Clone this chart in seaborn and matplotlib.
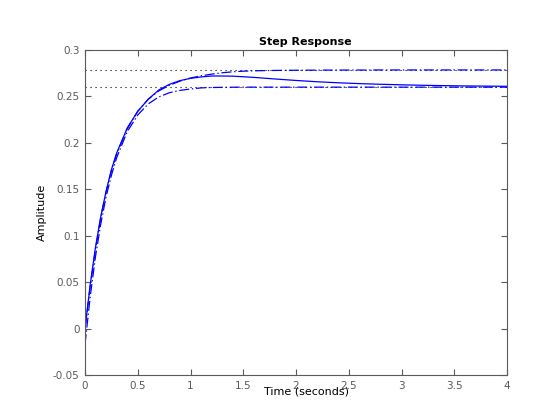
import matplotlib
matplotlib.use("Agg")
import matplotlib.pyplot as plt
import seaborn as sns
import pandas as pd

# ---- data ----
t = [0, 0.05, 0.1, 0.15, 0.2, 0.25, 0.3, 0.4, 0.5, 0.6, 0.7, 0.8, 0.9, 1.0,
     1.1, 1.2, 1.3, 1.4, 1.5, 1.6, 1.8, 2.0, 2.2, 2.4, 2.6, 2.8, 3.0, 3.3, 3.6, 4.0]

y_full = [0, 0.048, 0.088, 0.121, 0.148, 0.171, 0.189, 0.216, 0.234, 0.247,
          0.257, 0.263, 0.267, 0.2695, 0.271, 0.272, 0.272, 0.2718, 0.2712,
          0.2705, 0.2688, 0.2672, 0.2658, 0.2647, 0.2638, 0.2631, 0.2625,
          0.2618, 0.2613, 0.2609]

y_red_a = [0, 0.046, 0.086, 0.120, 0.147, 0.170, 0.188, 0.215, 0.234, 0.247,
           0.256, 0.262, 0.2665, 0.2698, 0.2722, 0.274, 0.2755, 0.2765, 0.2772,
           0.2776, 0.278, 0.2782, 0.2783, 0.2784, 0.2784, 0.2785, 0.2785,
           0.2785, 0.2785, 0.2785]

y_red_b = [-0.017, 0.035, 0.078, 0.113, 0.142, 0.165, 0.184, 0.212, 0.230,
           0.242, 0.2495, 0.254, 0.2565, 0.258, 0.2592, 0.2596, 0.2598, 0.2599,
           0.26, 0.26, 0.26, 0.26, 0.26, 0.26, 0.26, 0.26, 0.26, 0.26, 0.26, 0.26]

steady_levels = [0.2785, 0.26]
x_span = [0, 4]

x_ticks = [0, 0.5, 1, 1.5, 2, 2.5, 3, 3.5, 4]
x_ticklabels = ["0", "0.5", "1", "1.5", "2", "2.5", "3", "3.5", "4"]
y_ticks = [-0.05, 0, 0.05, 0.1, 0.15, 0.2, 0.25, 0.3]
y_ticklabels = ["-0.05", "0", "0.05", "0.1", "0.15", "0.2", "0.25", "0.3"]

title = "Step Response"
xlabel = "Time (seconds)"
ylabel = "Amplitude"

# ---- style ----
sns.set_style("ticks", {
    "xtick.direction": "in",
    "ytick.direction": "in",
})
plt.rcParams["font.family"] = ["DejaVu Sans"]
grey = "#5a5a5a"

fig = plt.figure(figsize=(5.6, 4.2), dpi=100)
ax = fig.add_axes([85 / 560, 45 / 420, 422 / 560, 325 / 420])

# steady-state dotted lines
for lev in steady_levels:
    sns.lineplot(x=x_span, y=[lev, lev], ax=ax, color="black", linewidth=0.8)
    ax.lines[-1].set_dashes([1, 3.5])

df = pd.DataFrame({"t": t, "full": y_full, "a": y_red_a, "b": y_red_b})

sns.lineplot(data=df, x="t", y="a", ax=ax, color="#0000ff", linewidth=0.9)
ax.lines[-1].set_dashes([8, 2.2, 1.1, 2.2])
sns.lineplot(data=df, x="t", y="b", ax=ax, color="#0000ff", linewidth=0.9)
ax.lines[-1].set_dashes([8, 2.2, 1.1, 2.2])
sns.lineplot(data=df, x="t", y="full", ax=ax, color="#0000ff", linewidth=0.9)

ax.set_xlim(0, 4)
ax.set_ylim(-0.05, 0.3)
ax.set_xticks(x_ticks)
ax.set_xticklabels(x_ticklabels)
ax.set_yticks(y_ticks)
ax.set_yticklabels(y_ticklabels)

ax.tick_params(axis="both", which="both", direction="in", length=4, width=0.8,
               color=grey, labelcolor=grey, labelsize=7.5, top=True, right=True)
ax.tick_params(axis="x", pad=4)
ax.tick_params(axis="y", pad=4)
for sp in ax.spines.values():
    sp.set_visible(True)
    sp.set_color(grey)
    sp.set_linewidth(0.8)

ax.set_xlabel(xlabel, fontsize=8, color="black")
ax.xaxis.set_label_coords((306 - 85) / 422, (375 - 391) / 325)
ax.xaxis.label.set_verticalalignment("center")

ax.set_ylabel(ylabel, fontsize=8, color="black")
ax.yaxis.set_label_coords((42 - 85) / 422, 0.5)
ax.yaxis.label.set_verticalalignment("center")

t_obj = ax.set_title(title, fontsize=8, fontweight="bold", color="black")
t_obj.set_position(((305 - 85) / 422, (375 - 35) / 325))
t_obj.set_verticalalignment("center")

fig.savefig("out.png", dpi=100)
